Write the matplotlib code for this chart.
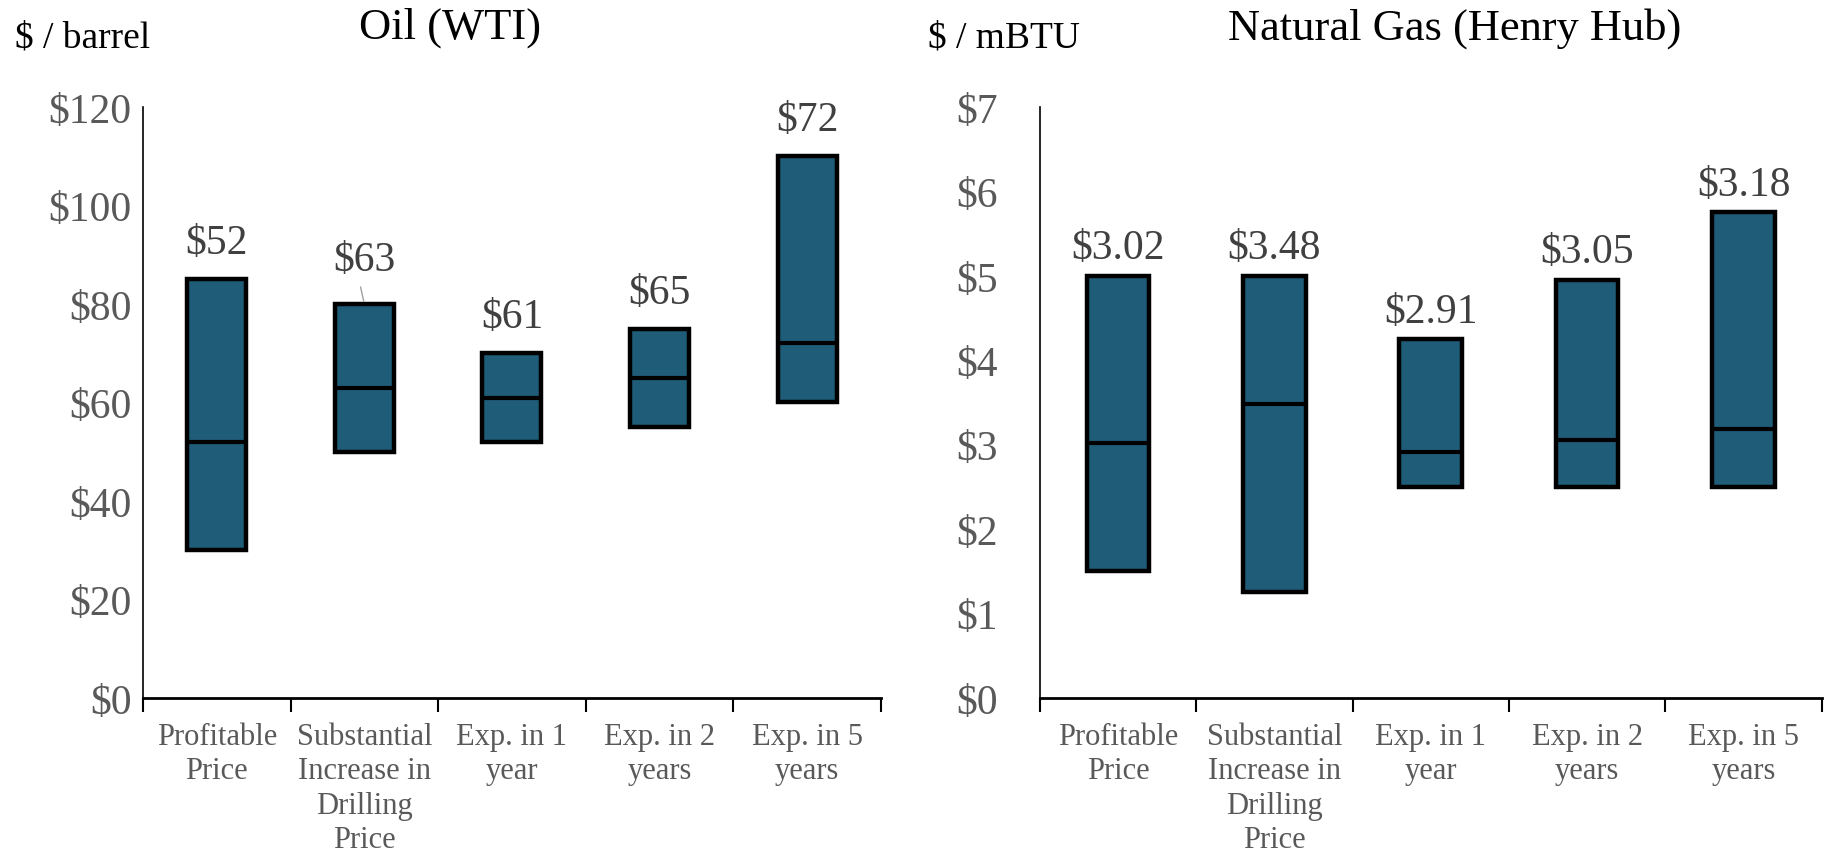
import matplotlib.pyplot as plt
import numpy as np

plt.rcParams['font.family'] = ['Liberation Serif', 'DejaVu Serif']

# categories shared by both panels
categories = ['Profitable\nPrice', 'Substantial\nIncrease in\nDrilling\nPrice',
              'Exp. in 1\nyear', 'Exp. in 2\nyears', 'Exp. in 5\nyears']

# oil (WTI), $ / barrel: range low / high and median
oil_low = [30, 50, 52, 55, 60]
oil_high = [85, 80, 70, 75, 110]
oil_mid = [52, 63, 61, 65, 72]
oil_labels = ['$52', '$63', '$61', '$65', '$72']

# natural gas (Henry Hub), $ / mBTU
gas_low = [1.5, 1.25, 2.5, 2.5, 2.5]
gas_high = [5.0, 5.0, 4.25, 4.95, 5.75]
gas_mid = [3.02, 3.48, 2.91, 3.05, 3.18]
gas_labels = ['$3.02', '$3.48', '$2.91', '$3.05', '$3.18']

bar_color = '#1F5C78'
tick_color = '#595959'
label_color = '#404040'

fig = plt.figure(figsize=(18.37, 8.53), dpi=100)
ax1 = fig.add_axes([0.0778, 0.1805, 0.4018, 0.693])
ax2 = fig.add_axes([0.566, 0.1805, 0.4257, 0.693])


def draw_panel(ax, low, high, mid, labels, ymax, ystep, lift, ypad):
    x = np.arange(len(categories))
    low = np.array(low)
    high = np.array(high)
    ax.bar(x, high - low, bottom=low, width=0.4, color=bar_color,
           edgecolor='black', linewidth=3.2, zorder=2)
    ax.hlines(mid, x - 0.2, x + 0.2, color='black', linewidth=3, zorder=3)
    for i in range(len(x)):
        ax.annotate(labels[i], (x[i], high[i]), xytext=(0, lift),
                    textcoords='offset points', ha='center', va='center',
                    fontsize=30, color=label_color)

    ax.set_xlim(-0.5, len(x) - 0.5)
    ax.set_ylim(0, ymax)
    yt = np.arange(0, ymax + ystep / 2, ystep)
    ax.set_yticks(yt)
    ax.set_yticklabels(['${:.0f}'.format(v) for v in yt])
    ax.tick_params(axis='y', length=0, labelsize=30, labelcolor=tick_color, pad=ypad)

    ax.set_xticks(x)
    ax.set_xticklabels(categories, fontsize=22, color=tick_color, linespacing=1.25)
    ax.set_xticks(np.arange(-0.5, len(x)), minor=True)
    ax.tick_params(axis='x', which='major', length=0, pad=17)
    ax.tick_params(axis='x', which='minor', length=10, width=1.5, direction='out')

    for s in ['top', 'right']:
        ax.spines[s].set_visible(False)
    ax.spines['left'].set_linewidth(1.2)
    ax.spines['bottom'].set_linewidth(2)


draw_panel(ax1, oil_low, oil_high, oil_mid, oil_labels, 120, 20, 26, 8)
draw_panel(ax2, gas_low, gas_high, gas_mid, gas_labels, 7, 1, 20, 30)

# leader line for the $63 label
ax1.annotate('', xy=(1, oil_high[1]), xytext=(0.97, 84),
             arrowprops=dict(arrowstyle='-', color='#A0A0A0', lw=1))
ax1.texts[1].set_position((0, 32))

fig.text(0.245, 0.967, 'Oil (WTI)', fontsize=32, ha='center', va='center')
fig.text(0.008, 0.955, '$ / barrel', fontsize=27, ha='left', va='center')
fig.text(0.792, 0.967, 'Natural Gas (Henry Hub)', fontsize=32, ha='center', va='center')
fig.text(0.505, 0.955, '$ / mBTU', fontsize=27, ha='left', va='center')

plt.savefig('out.png', dpi=100)
